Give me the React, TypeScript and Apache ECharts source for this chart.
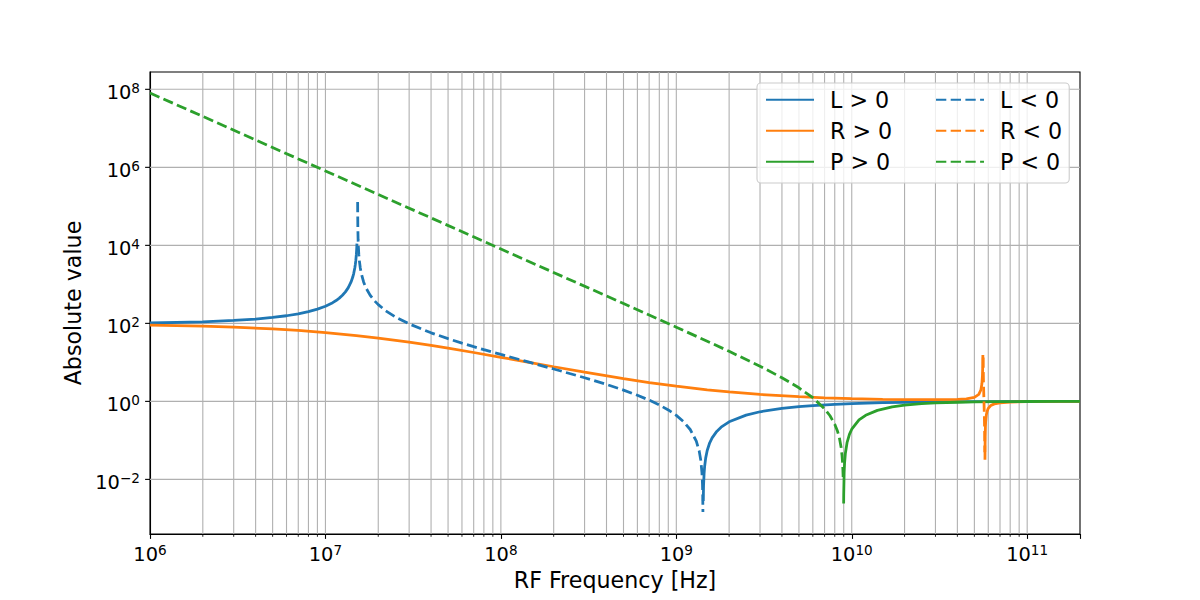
import React, { useEffect, useRef } from "react";
import * as echarts from "echarts";

// Cold-plasma Stix parameters (L, R, P) versus RF frequency.
// Each entry is [frequency in Hz, absolute value]; positive and negative
// branches are kept apart so they can be drawn solid / dashed.
const L_POS_LOW: [number, number][] = [
  [1e6, 102.1], [2e6, 109.7], [3e6, 118.6], [4e6, 129.0], [5e6, 141.5],
  [6e6, 156.7], [7e6, 175.6], [8e6, 199.7], [9e6, 231.5], [1e7, 275.4],
  [1.1e7, 339.9], [1.15e7, 385.1], [1.2e7, 444.2], [1.25e7, 524.8],
  [1.3e7, 641.2], [1.35e7, 824], [1.4e7, 1153], [1.43e7, 1517],
  [1.45e7, 1922], [1.47e7, 2620], [1.48e7, 3202], [1.49e7, 4117],
  [1.5e7, 5764], [1.505e7, 7206], [1.51e7, 9600], [1.512e7, 11090],
];
const L_POS_HIGH: [number, number][] = [
  [1.424e9, 0.0028], [1.43e9, 0.00714], [1.44e9, 0.01428], [1.45e9, 0.0213],
  [1.47e9, 0.0351], [1.5e9, 0.0551], [1.55e9, 0.0867], [1.6e9, 0.1163],
  [1.7e9, 0.1701], [1.8e9, 0.218], [2e9, 0.2992], [2.5e9, 0.445],
  [3e9, 0.5419], [4e9, 0.6626], [5e9, 0.7347], [6e9, 0.7826], [8e9, 0.8421],
  [1e10, 0.8776], [1.5e10, 0.9242], [2e10, 0.9469], [3e10, 0.9687],
  [5e10, 0.9848], [7e10, 0.9909], [1e11, 0.9948], [1.5e11, 0.9974],
  [2e11, 0.9984],
];
const L_NEG: [number, number][] = [
  [1.5261e7, 1.3e5], [1.527e7, 7.2e4], [1.53e7, 2.88e4], [1.535e7, 1.44e4],
  [1.54e7, 9602], [1.55e7, 5762], [1.56e7, 4115], [1.58e7, 2619],
  [1.6e7, 1920], [1.65e7, 1152], [1.7e7, 822], [1.8e7, 523], [1.9e7, 383],
  [2e7, 302], [2.2e7, 212], [2.5e7, 146.7], [3e7, 96.7], [4e7, 57.2],
  [5e7, 40.5], [6e7, 31.2], [7e7, 25.3], [8e7, 21.2], [1e8, 15.97],
  [1.5e8, 9.66], [2e8, 6.77], [3e8, 4.03], [4e8, 2.72], [5e8, 1.945],
  [6e8, 1.437], [7e8, 1.078], [8e8, 0.81], [9e8, 0.602], [1e9, 0.437],
  [1.1e9, 0.302], [1.2e9, 0.19], [1.3e9, 0.0958], [1.35e9, 0.0538],
  [1.38e9, 0.0301], [1.4e9, 0.0149], [1.41e9, 0.00745], [1.415e9, 0.00376],
  [1.418e9, 0.00145],
];
const R_POS_LOW: [number, number][] = [
  [1e6, 89.65], [2e6, 84.51], [3e6, 79.93], [5e6, 72.14], [7e6, 65.74],
  [1e7, 58.05], [1.5e7, 48.62], [2e7, 41.87], [3e7, 32.83], [4e7, 27.07],
  [5e7, 23.08], [7e7, 17.9], [1e8, 13.52], [1.5e8, 9.74], [2e8, 7.72],
  [3e8, 5.59], [5e8, 3.82], [7e8, 3.04], [1e9, 2.445], [1.5e9, 1.977],
  [2e9, 1.741], [3e9, 1.505], [5e9, 1.315], [7e9, 1.235], [1e10, 1.175],
  [1.5e10, 1.131], [2e10, 1.112], [3e10, 1.103], [4e10, 1.126],
  [4.5e10, 1.163], [5e10, 1.269], [5.3e10, 1.507], [5.45e10, 1.987],
  [5.52e10, 2.83], [5.56e10, 4.63], [5.58e10, 8.23], [5.59e10, 15.4],
];
const R_POS_HIGH: [number, number][] = [
  [5.745e10, 0.032], [5.76e10, 0.1249], [5.78e10, 0.2249], [5.8e10, 0.3048],
  [5.85e10, 0.4486], [5.9e10, 0.5444], [6e10, 0.664], [6.2e10, 0.7832],
  [6.5e10, 0.8621], [7e10, 0.9177], [8e10, 0.958], [1e11, 0.9817],
  [1.5e11, 0.9943], [2e11, 0.9972],
];
const R_NEG: [number, number][] = [
  [5.61e10, 13.4], [5.62e10, 6.17], [5.635e10, 3.09], [5.65e10, 1.855],
  [5.68e10, 0.775], [5.7e10, 0.415], [5.72e10, 0.175], [5.73e10, 0.0827],
  [5.7338e10, 0.05],
];
const P_POS: [number, number][] = [
  [8.992e9, 0.0024], [9e9, 0.0042], [9.05e9, 0.0151], [9.1e9, 0.026],
  [9.2e9, 0.047], [9.4e9, 0.0871], [9.7e9, 0.1427], [1e10, 0.1934],
  [1.1e10, 0.3334], [1.2e10, 0.4399], [1.4e10, 0.5885], [1.7e10, 0.7209],
  [2e10, 0.7984], [2.5e10, 0.8709], [3e10, 0.9104], [4e10, 0.9496],
  [5e10, 0.9677], [7e10, 0.9835], [1e11, 0.9919], [1.5e11, 0.9964],
  [2e11, 0.998],
];
const P_NEG: [number, number][] = [
  [1e6, 8.066e7], [1e7, 8.066e5], [1e8, 8065], [5e8, 321.6], [1e9, 79.66],
  [1.5e9, 34.85], [2e9, 19.17], [3e9, 7.962], [4e9, 4.041], [5e9, 2.226],
  [6e9, 1.241], [7e9, 0.646], [7.5e9, 0.434], [8e9, 0.2603], [8.3e9, 0.1709],
  [8.5e9, 0.1164], [8.7e9, 0.0657], [8.8e9, 0.0416], [8.85e9, 0.0299],
  [8.9e9, 0.0183], [8.93e9, 0.0115],
];

// Axis ranges and grid positions
const X_MIN = 1e6;
const X_MAX = 2e11;
const Y_MIN = 3.98e-4;
const Y_MAX = 2.78e8;
const X_MAJOR_GRID = [1e7, 1e8, 1e9, 1e10, 1e11];
const X_MINOR_GRID = [
  2e6, 3e6, 4e6, 5e6, 6e6, 7e6, 8e6, 9e6,
  2e7, 3e7, 4e7, 5e7, 6e7, 7e7, 8e7, 9e7,
  2e8, 3e8, 4e8, 5e8, 6e8, 7e8, 8e8, 9e8,
  2e9, 3e9, 4e9, 5e9, 6e9, 7e9, 8e9, 9e9,
  2e10, 3e10, 4e10, 5e10, 6e10, 7e10, 8e10, 9e10,
];
const Y_MAJOR_GRID = [1e-2, 1, 1e2, 1e4, 1e6, 1e8];

const BLUE = "#1f77b4";
const ORANGE = "#ff7f0e";
const GREEN = "#2ca02c";
const FONT = "DejaVu Sans";
const LINE_W = 2.78;
const DASH = [10.3, 4.4];
const GRID_COLOR = "#b0b0b0";

// "10" with a superscript exponent; blank for non-decade values
function powerLabel(value: number): string {
  const e = Math.log10(value);
  const n = Math.round(e);
  if (Math.abs(e - n) > 1e-6) return "";
  const exp = n < 0 ? "\u2212" + Math.abs(n) : String(n);
  return `{b|10}{s|${exp}}`;
}

const labelRich = {
  b: { fontFamily: FONT, fontSize: 19.4, lineHeight: 23, color: "#000", verticalAlign: "middle" },
  s: { fontFamily: FONT, fontSize: 13.6, lineHeight: 14.6, color: "#000", verticalAlign: "top" },
};

function lineSeries(name: string, data: [number, number][], color: string, dashed: boolean) {
  return {
    type: "line",
    name,
    data,
    symbol: "none",
    showSymbol: false,
    silent: true,
    z: 2,
    itemStyle: { color },
    lineStyle: { color, width: LINE_W, type: dashed ? DASH : "solid", cap: "butt" },
  };
}

const legendText = { fontFamily: FONT, fontSize: 22.2, color: "#000", padding: [0, 0, 0, 11] };

function buildOption() {
  return {
    animation: false,
    backgroundColor: "#ffffff",
    textStyle: { fontFamily: FONT },
    grid: {
      left: 150,
      top: 72,
      width: 930,
      height: 462,
      show: true,
      borderColor: "#000",
      borderWidth: 1.1,
      backgroundColor: "transparent",
    },
    xAxis: {
      type: "log",
      logBase: 10,
      min: X_MIN,
      max: X_MAX,
      axisLine: { show: true, lineStyle: { color: "#000", width: 1.1 } },
      axisTick: { show: true, inside: false, length: 4.9, lineStyle: { color: "#000", width: 1.1 } },
      axisLabel: { formatter: powerLabel, margin: 8.7, rich: labelRich, color: "#000" },
      splitLine: { show: false },
      name: "RF Frequency [Hz]",
      nameLocation: "middle",
      nameGap: 33,
      nameTextStyle: { fontFamily: FONT, fontSize: 22.2, color: "#000" },
    },
    yAxis: {
      type: "log",
      logBase: 100,
      min: Y_MIN,
      max: Y_MAX,
      axisLine: { show: true, lineStyle: { color: "#000", width: 1.1 } },
      axisTick: { show: false },
      axisLabel: { formatter: powerLabel, margin: 10, rich: labelRich, color: "#000", padding: [5.8, 0, 0, 0] },
      splitLine: { show: false },
      name: "Absolute value",
      nameLocation: "middle",
      nameRotate: 90,
      nameGap: 59,
      nameTextStyle: { fontFamily: FONT, fontSize: 22.2, color: "#000" },
    },
    legend: [
      {
        data: ["L > 0", "R > 0", "P > 0"],
        orient: "vertical",
        left: 757,
        top: 83,
        padding: [5.7, 177, 10.3, 8],
        itemGap: 9,
        itemWidth: 48,
        itemHeight: 22,
        selectedMode: false,
        backgroundColor: "rgba(255,255,255,0.8)",
        borderColor: "#cccccc",
        borderWidth: 1.1,
        borderRadius: 4,
        itemStyle: { opacity: 0 },
        textStyle: legendText,
        z: 4,
      },
      {
        data: ["L < 0", "R < 0", "P < 0"],
        orient: "vertical",
        left: 935,
        top: 88.7,
        padding: 0,
        itemGap: 9,
        itemWidth: 48,
        itemHeight: 22,
        selectedMode: false,
        itemStyle: { opacity: 0 },
        textStyle: legendText,
        z: 5,
      },
    ],
    series: [
      {
        type: "custom",
        name: "x-grid",
        silent: true,
        clip: false,
        z: 1,
        encode: { x: 0, y: 1 },
        data: [
          ...X_MAJOR_GRID.map((v) => [v, 1, 0]),
          ...X_MINOR_GRID.map((v) => [v, 1, 1]),
        ],
        renderItem: (params: any, api: any) => {
          const cs = params.coordSys;
          const x = api.coord([api.value(0), 1])[0];
          const bottom = cs.y + cs.height;
          const children: any[] = [
            { type: "line", shape: { x1: x, y1: cs.y, x2: x, y2: bottom }, style: { stroke: GRID_COLOR, lineWidth: 1.1 } },
          ];
          if (api.value(2) === 1) {
            children.push({
              type: "line",
              shape: { x1: x, y1: bottom, x2: x, y2: bottom + 2.8 },
              style: { stroke: "#000", lineWidth: 0.85 },
            });
          }
          return { type: "group", children };
        },
      },
      {
        type: "custom",
        name: "y-grid",
        silent: true,
        clip: false,
        z: 1,
        encode: { x: 0, y: 1 },
        data: Y_MAJOR_GRID.map((v) => [X_MIN, v]),
        renderItem: (params: any, api: any) => {
          const cs = params.coordSys;
          const y = api.coord([X_MIN, api.value(1)])[1];
          return {
            type: "group",
            children: [
              { type: "line", shape: { x1: cs.x, y1: y, x2: cs.x + cs.width, y2: y }, style: { stroke: GRID_COLOR, lineWidth: 1.1 } },
              { type: "line", shape: { x1: cs.x - 4.9, y1: y, x2: cs.x, y2: y }, style: { stroke: "#000", lineWidth: 1.1 } },
            ],
          };
        },
      },
      lineSeries("L > 0", L_POS_LOW, BLUE, false),
      lineSeries("L > 0", L_POS_HIGH, BLUE, false),
      lineSeries("R > 0", R_POS_LOW, ORANGE, false),
      lineSeries("R > 0", R_POS_HIGH, ORANGE, false),
      lineSeries("P > 0", P_POS, GREEN, false),
      lineSeries("L < 0", L_NEG, BLUE, true),
      lineSeries("R < 0", R_NEG, ORANGE, true),
      lineSeries("P < 0", P_NEG, GREEN, true),
    ],
  };
}

export default function App() {
  const ref = useRef<HTMLDivElement>(null);
  useEffect(() => {
    if (!ref.current) return;
    const chart = echarts.init(ref.current, undefined, { renderer: "svg", width: 1200, height: 600 });
    chart.setOption(buildOption() as any);
    return () => chart.dispose();
  }, []);
  return (
    <div
      ref={ref}
      style={{ position: "fixed", left: 0, top: 0, width: 1200, height: 600, background: "#ffffff" }}
    />
  );
}
